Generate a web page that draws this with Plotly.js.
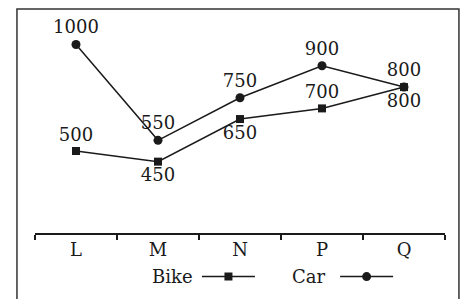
<!DOCTYPE html>
<html>
<head>
<meta charset="utf-8">
<script src="https://cdn.plot.ly/plotly-3.0.1.min.js"></script>
<style>html,body{margin:0;padding:0;background:#fff;}#chart{width:464px;height:299px;}</style>
</head>
<body>
<div id="chart"></div>
<script>
var categories = ["L", "M", "N", "P", "Q"];
var bikeValues = [500, 450, 650, 700, 800];
var carValues = [1000, 550, 750, 900, 800];
var seriesNames = ["Bike", "Car"];
var bikeLabelSide = ["top center", "bottom center", "bottom center", "top center", "bottom center"];
var carLabelSide = ["top center", "top center", "top center", "top center", "top center"];

var FONT = "DejaVu Serif, Liberation Serif, serif";
var INK = "#1a1a1a";

var car = {
  x: categories, y: carValues, name: "", legend: "legend2",
  type: "scatter", mode: "lines+markers+text",
  text: carValues.map(String),
  textposition: carLabelSide,
  textfont: {family: FONT, size: 18, color: INK},
  line: {color: INK, width: 1.5},
  marker: {symbol: "circle", size: 9, color: INK},
  cliponaxis: false, hoverinfo: "skip"
};
var bike = {
  x: categories, y: bikeValues, name: "", legend: "legend",
  type: "scatter", mode: "lines+markers+text",
  text: bikeValues.map(String),
  textposition: bikeLabelSide,
  textfont: {family: FONT, size: 18, color: INK},
  line: {color: INK, width: 1.5},
  marker: {symbol: "square", size: 8, color: INK},
  cliponaxis: false, hoverinfo: "skip"
};

var legendBase = {orientation: "h", yanchor: "middle", xanchor: "left", bgcolor: "rgba(0,0,0,0)",
                  font: {family: FONT, size: 18, color: INK}, itemwidth: 53};

var layout = {
  width: 464, height: 299,
  margin: {l: 35, r: 19, t: 20, b: 66, autoexpand: false},
  paper_bgcolor: "#fff", plot_bgcolor: "#fff",
  font: {family: FONT, size: 18, color: INK},
  showlegend: true,
  legend: Object.assign({}, legendBase, {x: 0.395, y: -0.206}),
  legend2: Object.assign({}, legendBase, {x: 0.732, y: -0.206}),
  xaxis: {
    type: "category", range: [-0.5, 4.5], showgrid: false, zeroline: false,
    showline: true, linecolor: INK, linewidth: 1.5,
    ticks: "outside", tickson: "boundaries", ticklen: 5, tickwidth: 1.5, tickcolor: INK,
    tickfont: {family: FONT, size: 18, color: INK}, fixedrange: true
  },
  yaxis: {range: [115, 1115], visible: false, showgrid: false, zeroline: false, fixedrange: true},
  shapes: [{type: "rect", xref: "paper", yref: "paper", x0: -0.044, x1: 1.034, y0: -0.36, y1: 1.052,
            line: {color: "#333", width: 1.5}, fillcolor: "rgba(0,0,0,0)", layer: "below"}],
  annotations: [
    {text: seriesNames[0], xref: "paper", yref: "paper", x: 0.390, y: -0.206, xanchor: "right", yanchor: "middle", showarrow: false, font: {family: FONT, size: 18, color: INK}},
    {text: seriesNames[1], xref: "paper", yref: "paper", x: 0.714, y: -0.206, xanchor: "right", yanchor: "middle", showarrow: false, font: {family: FONT, size: 18, color: INK}}
  ]
};

Plotly.newPlot("chart", [car, bike], layout, {staticPlot: true, displayModeBar: false});
</script>
</body>
</html>
